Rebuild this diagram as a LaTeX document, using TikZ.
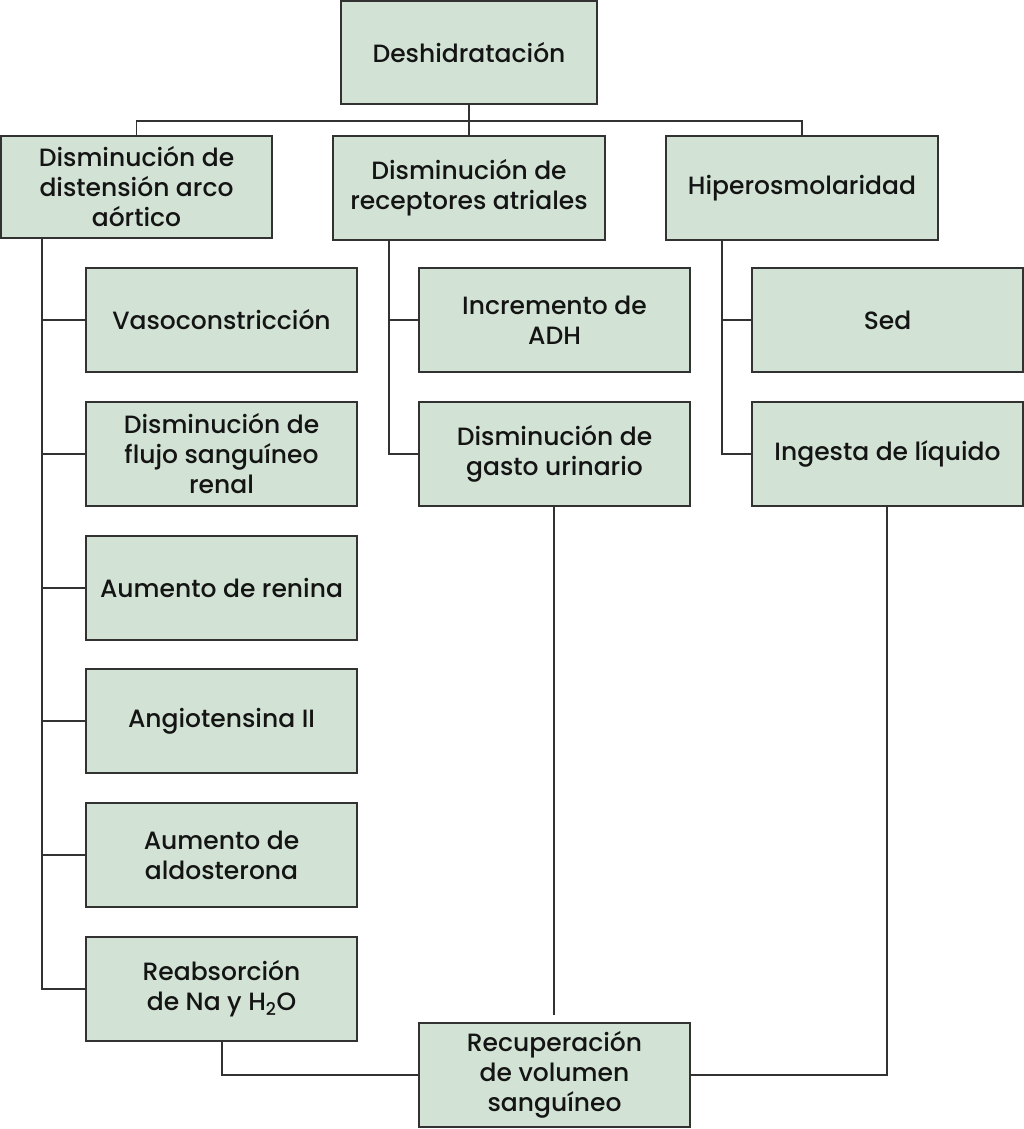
\documentclass[tikz,border=0pt]{standalone}
\usepackage{fontspec}
\setmainfont{Poppins}[UprightFont=* Medium]
\definecolor{boxgreen}{RGB}{210,227,213}
\definecolor{edge}{RGB}{50,50,50}
\newcommand\bx[6]{\node[box, minimum width={(#4-#2)*1pt}, minimum height={(#5-#3)*1pt}] (#1) at ({(#2+#4)/2},{(#3+#5)/2}) {#6};}
\begin{document}
\begin{tikzpicture}[x=1pt,y=-1pt,
  box/.style={draw=edge, line width=1.6pt, fill=boxgreen, align=center,
    font=\fontsize{25}{30}\selectfont, inner sep=0pt, text=black!92},
  conn/.style={draw=edge, line width=1.3pt}]
\useasboundingbox (0,0) rectangle (1024,1129);
% top
\bx{des}{341}{1}{597}{104}{Deshidratación}
% second row
\bx{aor}{1}{136}{272}{238}{Disminución de\\distensión arco\\aórtico}
\bx{atr}{333}{136}{605}{240}{Disminución de\\receptores atriales}
\bx{hip}{666}{136}{938}{240}{Hiperosmolaridad}
% left column
\bx{vaso}{86}{268}{357}{372}{Vasoconstricción}
\bx{flujo}{86}{402}{357}{506}{Disminución de\\flujo sanguíneo\\renal}
\bx{ren}{86}{536}{357}{640}{Aumento de renina}
\bx{ang}{86}{669}{357}{773}{Angiotensina II}
\bx{ald}{86}{803}{357}{907}{Aumento de\\aldosterona}
\bx{reab}{86}{937}{357}{1041}{Reabsorción\\de Na y H\textsubscript{2}O}
% middle column
\bx{adh}{419}{268}{690}{372}{Incremento de\\ADH}
\bx{gasto}{419}{402}{690}{506}{Disminución de\\gasto urinario}
% right column
\bx{sed}{752}{268}{1023}{372}{Sed}
\bx{ing}{752}{402}{1023}{506}{Ingesta de líquido}
% bottom
\bx{rec}{419}{1023}{690}{1127}{Recuperación\\de volumen\\sanguíneo}
% connectors
\coordinate (j0) at (469,121);
\coordinate (lt) at (42,238);
\coordinate (mt) at (389,240);
\coordinate (rt) at (722,240);
\coordinate (gend) at (554,1015);
\draw[conn] (des.south) -- (atr.north);
\draw[conn] (aor.north) |- (j0) -| (hip.north);
\draw[conn] (lt) |- (reab.west);
\foreach \n in {vaso,flujo,ren,ang,ald} \draw[conn] (lt |- \n.west) -- (\n.west);
\draw[conn] (mt) |- (gasto.west);
\draw[conn] (mt |- adh.west) -- (adh.west);
\draw[conn] (rt) |- (ing.west);
\draw[conn] (rt |- sed.west) -- (sed.west);
\draw[conn] (gasto.south -| gend) -- (gend);
\draw[conn] (reab.south -| 222,0) |- (rec.west);
\draw[conn] (ing.south -| 887,0) |- (rec.east);
\end{tikzpicture}
\end{document}
